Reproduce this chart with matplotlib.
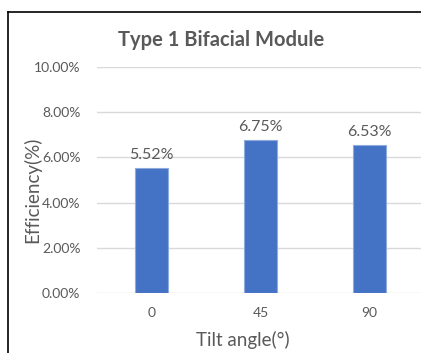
import matplotlib.pyplot as plt
from matplotlib.lines import Line2D

plt.rcParams['font.family'] = ['Lato', 'DejaVu Sans']

angles = ['0', '45', '90']
efficiency = [0.0552, 0.0675, 0.0653]
yticks = [0.0, 0.02, 0.04, 0.06, 0.08, 0.10]

grey = '#595959'
blue = '#4472C4'

fig = plt.figure(figsize=(4.21, 3.53), dpi=100)
ax = fig.add_axes([97 / 421, 1 - 293 / 353, 327 / 421, 226 / 353])

x = range(len(angles))
ax.bar(x, efficiency, width=0.31, color=blue, edgecolor='#8FAADC', linewidth=0.8, zorder=3)
for xi, v in zip(x, efficiency):
    ax.text(xi, v + 0.0058, f'{v * 100:.2f}%', ha='center', va='center',
            fontsize=11.5, color=grey)

ax.set_xlim(-0.5, 2.5)
ax.set_ylim(0, 0.10)
ax.set_xticks(list(x))
ax.set_xticklabels(angles)
ax.set_yticks(yticks)
ax.set_yticklabels([f'{t * 100:.2f}%' for t in yticks])
ax.tick_params(length=0, labelsize=10, labelcolor=grey, pad=10)
ax.tick_params(axis='y', pad=12)
ax.grid(axis='y', color='#D9D9D9', linewidth=1, zorder=0)
for s in ax.spines.values():
    s.set_visible(False)

ax.set_xlabel('Tilt angle(°)', fontsize=13.5, color=grey, va='center')
ax.set_ylabel('Efficiency(%)', fontsize=13.5, color=grey, va='center')
ax.xaxis.set_label_coords(0.445, -0.208)
ax.yaxis.set_label_coords(-0.199, 0.456)
fig.text(221 / 421, 1 - 40 / 353, 'Type 1 Bifacial Module', ha='center', va='center',
         fontsize=14.5, fontweight='bold', color=grey)

# outer frame (only top and left visible in the crop)
fig.add_artist(Line2D([8 / 421, 1.0], [1 - 12 / 353, 1 - 12 / 353], color='black', linewidth=1.2))
fig.add_artist(Line2D([8 / 421, 8 / 421], [0, 1 - 12 / 353], color='black', linewidth=1.2))

fig.savefig('out.png', dpi=100)
